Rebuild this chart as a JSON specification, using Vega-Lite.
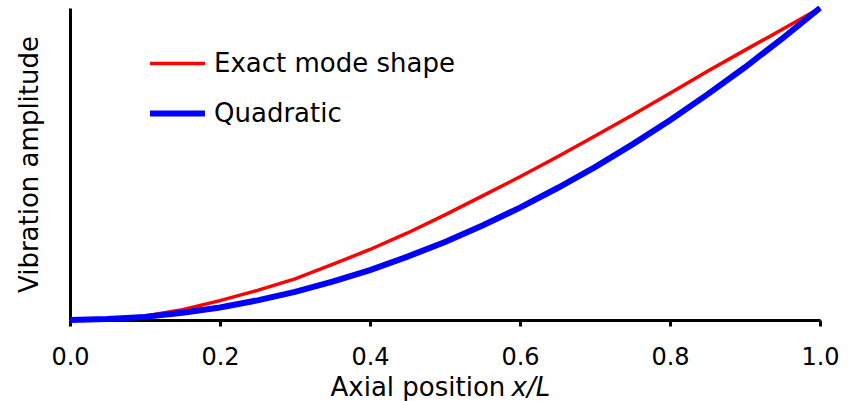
{
  "$schema": "https://vega.github.io/schema/vega-lite/v6.json",
  "width": 750,
  "height": 312,
  "autosize": {"type": "none"},
  "padding": {"left": 70, "top": 8, "right": 38, "bottom": 81},
  "background": "white",
  "config": {
    "view": {"stroke": null},
    "font": "DejaVu Sans",
    "axis": {"grid": false, "domainColor": "black", "domainWidth": 3, "tickColor": "black"}
  },
  "data": {
    "values": [
      {"x": 0.00, "y": 0.000, "series": "Exact mode shape"},
      {"x": 0.05, "y": 0.003, "series": "Exact mode shape"},
      {"x": 0.10, "y": 0.013, "series": "Exact mode shape"},
      {"x": 0.15, "y": 0.033, "series": "Exact mode shape"},
      {"x": 0.20, "y": 0.062, "series": "Exact mode shape"},
      {"x": 0.25, "y": 0.095, "series": "Exact mode shape"},
      {"x": 0.30, "y": 0.132, "series": "Exact mode shape"},
      {"x": 0.35, "y": 0.178, "series": "Exact mode shape"},
      {"x": 0.40, "y": 0.226, "series": "Exact mode shape"},
      {"x": 0.45, "y": 0.279, "series": "Exact mode shape"},
      {"x": 0.50, "y": 0.337, "series": "Exact mode shape"},
      {"x": 0.55, "y": 0.398, "series": "Exact mode shape"},
      {"x": 0.60, "y": 0.459, "series": "Exact mode shape"},
      {"x": 0.65, "y": 0.523, "series": "Exact mode shape"},
      {"x": 0.70, "y": 0.590, "series": "Exact mode shape"},
      {"x": 0.75, "y": 0.657, "series": "Exact mode shape"},
      {"x": 0.80, "y": 0.727, "series": "Exact mode shape"},
      {"x": 0.85, "y": 0.797, "series": "Exact mode shape"},
      {"x": 0.90, "y": 0.865, "series": "Exact mode shape"},
      {"x": 0.95, "y": 0.932, "series": "Exact mode shape"},
      {"x": 1.00, "y": 1.000, "series": "Exact mode shape"},
      {"x": 0.00, "y": 0.000, "series": "Quadratic"},
      {"x": 0.05, "y": 0.003, "series": "Quadratic"},
      {"x": 0.10, "y": 0.010, "series": "Quadratic"},
      {"x": 0.15, "y": 0.023, "series": "Quadratic"},
      {"x": 0.20, "y": 0.040, "series": "Quadratic"},
      {"x": 0.25, "y": 0.063, "series": "Quadratic"},
      {"x": 0.30, "y": 0.090, "series": "Quadratic"},
      {"x": 0.35, "y": 0.123, "series": "Quadratic"},
      {"x": 0.40, "y": 0.160, "series": "Quadratic"},
      {"x": 0.45, "y": 0.203, "series": "Quadratic"},
      {"x": 0.50, "y": 0.250, "series": "Quadratic"},
      {"x": 0.55, "y": 0.303, "series": "Quadratic"},
      {"x": 0.60, "y": 0.360, "series": "Quadratic"},
      {"x": 0.65, "y": 0.423, "series": "Quadratic"},
      {"x": 0.70, "y": 0.490, "series": "Quadratic"},
      {"x": 0.75, "y": 0.563, "series": "Quadratic"},
      {"x": 0.80, "y": 0.640, "series": "Quadratic"},
      {"x": 0.85, "y": 0.723, "series": "Quadratic"},
      {"x": 0.90, "y": 0.810, "series": "Quadratic"},
      {"x": 0.95, "y": 0.903, "series": "Quadratic"},
      {"x": 1.00, "y": 1.000, "series": "Quadratic"}
    ]
  },
  "layer": [
    {
      "mark": {"type": "line", "clip": false},
      "encoding": {
        "x": {
          "field": "x", "type": "quantitative",
          "scale": {"domain": [0, 1], "nice": false},
          "axis": {
            "values": [0, 0.2, 0.4, 0.6, 0.8, 1.0], "format": ".1f",
            "labelFontSize": 24, "labelColor": "black", "labelPadding": 19, "labelFlush": false,
            "tickSize": 6, "tickWidth": 3,
            "title": "Axial position", "titleFontSize": 26, "titleFontWeight": "normal", "titleColor": "black",
            "titleAlign": "left", "titleBaseline": "alphabetic", "titleX": 260, "titleY": 75
          }
        },
        "y": {
          "field": "y", "type": "quantitative",
          "scale": {"domain": [0, 1], "nice": false},
          "axis": {
            "ticks": false, "labels": false,
            "title": "Vibration amplitude", "titleFontSize": 26, "titleFontWeight": "normal", "titleColor": "black",
            "titlePadding": 28
          }
        },
        "color": {
          "field": "series", "type": "nominal",
          "scale": {"domain": ["Exact mode shape", "Quadratic"], "range": ["#ff0000", "#0000ff"]},
          "legend": {
            "title": null, "orient": "none", "legendX": 77, "legendY": 26,
            "symbolType": "stroke", "symbolSize": 3025, "labelFontSize": 26, "labelColor": "black",
            "labelLimit": 400, "labelOffset": 6, "rowPadding": 6, "symbolStrokeColor": null
          }
        },
        "strokeWidth": {
          "field": "series", "type": "nominal",
          "scale": {"domain": ["Exact mode shape", "Quadratic"], "range": [3.5, 6]},
          "legend": null
        }
      }
    },
    {
      "mark": {"type": "rule", "opacity": 0},
      "encoding": {
        "x": {
          "datum": 0, "type": "quantitative",
          "axis": {
            "orient": "bottom", "domain": false, "ticks": false, "labels": false,
            "title": "x/L", "titleFontSize": 26, "titleFontWeight": "normal", "titleFontStyle": "italic", "titleColor": "black",
            "titleAlign": "left", "titleBaseline": "alphabetic", "titleX": 441, "titleY": 75
          }
        }
      }
    }
  ],
  "resolve": {"axis": {"x": "independent"}}
}
